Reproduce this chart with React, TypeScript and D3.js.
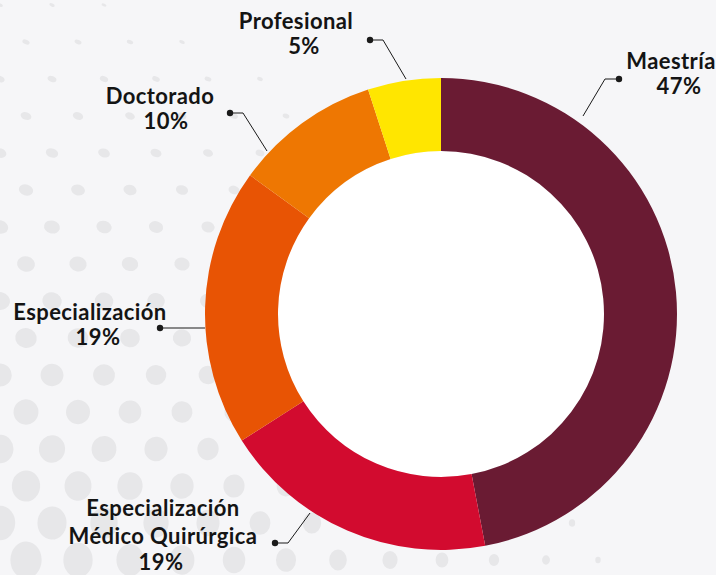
import React from "react";
import * as d3 from "d3";

const categories = ["Maestría", "Especialización Médico Quirúrgica", "Especialización", "Doctorado", "Profesional"];
const values = [47, 19, 19, 10, 5];
const labelLines = [["Maestría"], ["Especialización", "Médico Quirúrgica"], ["Especialización"], ["Doctorado"], ["Profesional"]];
const colors = ["#6a1b33", "#d20b2f", "#e85404", "#ee7702", "#ffe600"];

// layout for callouts (text anchor centre, baseline of first line, leader geometry)
const callouts = [
  { tx: 671, ty: 69, pdx: 8, dot: [619, 79], elbow: [605, 79], end: [583, 116] },
  { tx: 163, ty: 516, pdx: -2, dot: [275, 543], elbow: [288, 543], end: [310, 513] },
  { tx: 90, ty: 320, pdx: 8, dot: [160, 328], elbow: [180, 328], end: [205, 328] },
  { tx: 160, ty: 104, pdx: 6, dot: [230, 113], elbow: [243, 113], end: [267, 151] },
  { tx: 296, ty: 29, pdx: 8, dot: [370, 40], elbow: [383, 40], end: [406, 79] },
];

const W = 716;
const H = 575;
const cx = 441;
const cy = 314;
const rOuter = 236;
const rInner = 163;

function bgDots() {
  const out: { x: number; y: number; rx: number; ry: number; a: number }[] = [];
  for (let r = 0; r < 17; r++) {
    for (let c = -1; c < 16; c++) {
      const x = c * 52 + (r % 2) * 26;
      const y = r * 37 + 5;
      const d = Math.hypot(x + 40, H + 60 - y);
      const s = Math.max(0, 18 - d / 42);
      if (s < 2.5) continue;
      const t = y / H;
      out.push({ x, y, rx: s, ry: s * (0.55 + 0.65 * t), a: 25 * (1 - t) });
    }
  }
  return out;
}

export default function App() {
  const pie = d3.pie<number>().sort(null).value((d) => d)(values);
  const arc = d3.arc<d3.PieArcDatum<number>>().innerRadius(rInner).outerRadius(rOuter);
  const dots = bgDots();
  const font = "Lato, 'Open Sans', sans-serif";
  return (
    <svg width={W} height={H} style={{ position: "absolute", left: 0, top: 0, display: "block" }}>
      <rect x={0} y={0} width={W} height={H} fill="#f6f6f8" />
      <g fill="#e7e7e9">
        {dots.map((d, i) => (
          <ellipse key={i} cx={d.x} cy={d.y} rx={d.rx} ry={d.ry} transform={`rotate(${d.a} ${d.x} ${d.y})`} />
        ))}
      </g>
      <g transform={`translate(${cx},${cy})`}>
        <circle r={rInner} fill="#ffffff" />
        {pie.map((p, i) => (
          <path key={categories[i]} d={arc(p) || ""} fill={colors[i]} />
        ))}
      </g>
      {callouts.map((c, i) => {
        const lines = labelLines[i];
        return (
          <g key={categories[i]}>
            <polyline
              points={`${c.dot[0]},${c.dot[1]} ${c.elbow[0]},${c.elbow[1]} ${c.end[0]},${c.end[1]}`}
              fill="none"
              stroke="#1a1a1a"
              strokeWidth={1}
            />
            <circle cx={c.dot[0]} cy={c.dot[1]} r={3.2} fill="#1a1a1a" />
            <text
              fontFamily={font}
              fontWeight={700}
              fontSize={22}
              letterSpacing={0.4}
              fill="#141414"
              textAnchor="middle"
            >
              {lines.map((l, j) => (
                <tspan key={j} x={c.tx} y={c.ty + j * 28}>
                  {l}
                </tspan>
              ))}
              <tspan x={c.tx + c.pdx} y={c.ty + (lines.length > 1 ? 54 : 25)}>
                {values[i]}%
              </tspan>
            </text>
          </g>
        );
      })}
    </svg>
  );
}
